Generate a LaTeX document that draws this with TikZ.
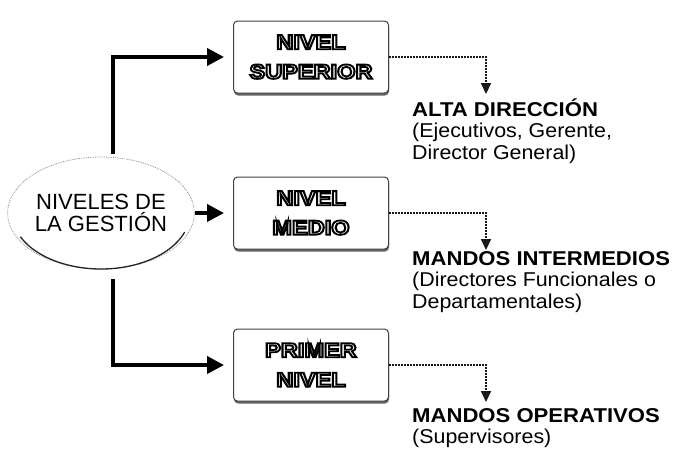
\documentclass[tikz,border=0pt]{standalone}
\usepackage{fontspec}
\usepackage{graphicx}
\setmainfont{Liberation Sans}
\newfontfamily\headfont{Liberation Sans Bold}
\newfontfamily\descfont[FakeStretch=1.07]{Liberation Sans}
\usetikzlibrary{arrows.meta,shapes.geometric,shadows}

\tikzset{
 mainarrow/.style={line width=3.8pt, shorten >=9pt, -{Triangle[length=17pt,width=17pt]}},
 subarrow/.style={line width=2pt, dash pattern=on 2pt off 1pt, black!90, -{Triangle[length=11pt,width=10pt]}},
 levelbox/.style={draw=black!75, line width=1pt, rounded corners=4pt, fill=white,
   minimum width=155pt, minimum height=72pt, inner sep=0pt, align=center,
   font=\headfont\fontsize{20.5}{29.5}\selectfont, text=white,
   drop shadow={shadow xshift=0.5pt, shadow yshift=-2.5pt, fill=black!60, opacity=1}},
 hub/.style={ellipse, draw=black!45, densely dotted, line width=0.8pt,
   minimum width=178pt, minimum height=112pt, inner sep=0pt, align=center,
   font=\fontsize{22}{22}\selectfont},
 desc/.style={anchor=north west, align=left, inner sep=0pt,
   font=\descfont\fontsize{20}{21.5}\selectfont},
}
\newcommand{\outl}[1]{\special{pdf:literal direct 2 Tr 1.8 w 0 G}\scalebox{1.15}[1]{#1}\special{pdf:literal direct 0 Tr}}
\newcommand{\hd}[1]{\rule{0pt}{18pt}\scalebox{1.105}[1]{\headfont #1}}

\begin{document}
\begin{tikzpicture}[x=1pt,y=-1pt]
\useasboundingbox (0,0) rectangle (674,451);

% hub ellipse
\node[hub] (g) at (101,213) {NIVELES DE\\LA GESTIÓN};
\draw[line width=1.3pt, black!85] (g.center) ++(205:89pt and 56pt)
  arc[start angle=205, end angle=340, x radius=89pt, y radius=56pt];

% level boxes
\node[levelbox] (b1) at (311,57) {\outl{NIVEL}\\\outl{SUPERIOR}};
\node[levelbox] (b2) at (311,213) {\outl{NIVEL}\\\outl{MEDIO}};
\node[levelbox] (b3) at (311,365) {\outl{PRIMER}\\\outl{NIVEL}};

% descriptions
\node[desc] (t1) at (412,98) {\hd{ALTA DIRECCIÓN}\\(Ejecutivos, Gerente,\\Director General)};
\node[desc] (t2) at (412,247) {\hd{MANDOS INTERMEDIOS}\\(Directores Funcionales o\\Departamentales)};
\node[desc] (t3) at (412,404) {\hd{MANDOS OPERATIVOS}\\(Supervisores)};

% arrow end points
\coordinate (a1) at (486,94);
\coordinate (a2) at (486,250);
\coordinate (a3) at (486,402);

% main connectors
\draw[mainarrow] ([xshift=12pt,yshift=3pt]g.north) |- (b1.west);
\draw[mainarrow] (g.east) -- (b2.west);
\draw[mainarrow] ([xshift=12pt,yshift=-10pt]g.south) |- (b3.west);

% dotted connectors
\draw[subarrow] (b1.east) -| (a1);
\draw[subarrow] (b2.east) -| (a2);
\draw[subarrow] (b3.east) -| (a3);
\end{tikzpicture}
\end{document}
